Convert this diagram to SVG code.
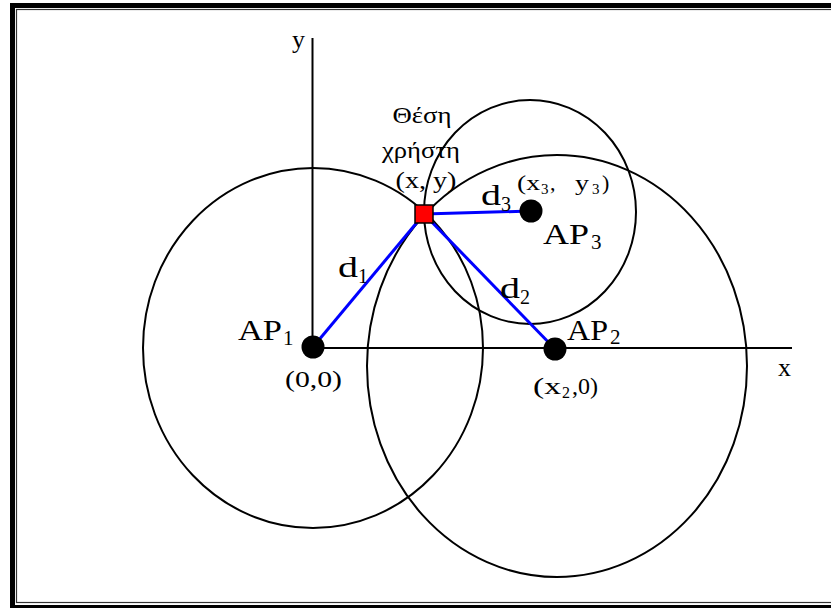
<svg xmlns="http://www.w3.org/2000/svg" width="831" height="608" viewBox="0 0 831 608">
<style>
text{font-family:'Liberation Serif','Times New Roman',Times,'Noto Serif','DejaVu Serif',serif;fill:#000}
.c{fill:none;stroke:#000;stroke-width:2}
.ax{stroke:#000;stroke-width:2}
.bl{stroke:#0000ff;stroke-width:3}
.dot{fill:#000}
</style>
<rect x="0" y="0" width="831" height="608" fill="#fff"/>
<g id="frame">
<rect x="12.5" y="5.5" width="830" height="602" fill="none" stroke="#000" stroke-width="5"/>
<rect x="16.5" y="9.5" width="820" height="593" fill="none" stroke="#333" stroke-width="1.2"/>
</g>
<g id="axes" font-family="Liberation Serif, serif">
<line class="ax" x1="312.5" y1="38" x2="312.5" y2="348"/>
<line class="ax" x1="312" y1="348" x2="792" y2="348"/>
<text x="292" y="48" font-size="26">y</text>
<text x="778" y="376" font-size="26">x</text>
</g>
<g id="circles">
<ellipse class="c" cx="313" cy="348" rx="170" ry="180"/>
<ellipse class="c" cx="557" cy="366" rx="190" ry="211"/>
<ellipse class="c" cx="530" cy="212" rx="106" ry="112"/>
</g>
<g id="connectors">
<line class="bl" x1="424" y1="214" x2="313" y2="347"/>
<line class="bl" x1="424" y1="214" x2="555" y2="349"/>
<line class="bl" x1="424" y1="214" x2="531" y2="211"/>
</g>
<g id="ap1" font-family="Liberation Serif, serif">
<circle class="dot" cx="313" cy="347" r="11.5"/>
<text x="238" y="340" font-size="30" textLength="44" lengthAdjust="spacingAndGlyphs">AP</text>
<text x="283" y="345" font-size="21">1</text>
<text x="285" y="387" font-size="24" textLength="57" lengthAdjust="spacingAndGlyphs">(0,0)</text>
</g>
<g id="ap2" font-family="Liberation Serif, serif">
<circle class="dot" cx="555" cy="349" r="11.5"/>
<text x="567" y="340" font-size="30" textLength="41" lengthAdjust="spacingAndGlyphs">AP</text>
<text x="610" y="344" font-size="21">2</text>
<text x="533" y="394" font-size="24" textLength="28" lengthAdjust="spacingAndGlyphs">(x</text>
<text x="562" y="398" font-size="16">2</text>
<text x="572" y="394" font-size="24" textLength="26" lengthAdjust="spacingAndGlyphs">,0)</text>
</g>
<g id="ap3" font-family="Liberation Serif, serif">
<circle class="dot" cx="531" cy="211" r="11.5"/>
<text x="543" y="244" font-size="30" textLength="46" lengthAdjust="spacingAndGlyphs">AP</text>
<text x="591" y="249" font-size="21">3</text>
<text x="517" y="190" font-size="22" textLength="23" lengthAdjust="spacingAndGlyphs">(x</text>
<text x="541" y="194" font-size="15">3</text>
<text x="550" y="190" font-size="22">,</text>
<text x="575" y="190" font-size="22" textLength="14" lengthAdjust="spacingAndGlyphs">y</text>
<text x="592" y="194" font-size="15">3</text>
<text x="602" y="190" font-size="22">)</text>
</g>
<g id="user" font-family="Liberation Serif, serif">
<rect x="415" y="205" width="18" height="18" fill="#ff0000" stroke="#000" stroke-width="1.5"/>
<text x="422" y="123" font-size="24" text-anchor="middle" textLength="59" lengthAdjust="spacingAndGlyphs">Θέση</text>
<text x="421" y="158" font-size="24" text-anchor="middle" textLength="78" lengthAdjust="spacingAndGlyphs">χρήστη</text>
<text x="426" y="188" font-size="24" text-anchor="middle" textLength="61" lengthAdjust="spacingAndGlyphs">(x, y)</text>
</g>
<g id="labels" font-family="Liberation Serif, serif">
<text x="338" y="277" font-size="30" textLength="20" lengthAdjust="spacingAndGlyphs">d</text>
<text x="358" y="283" font-size="20">1</text>
<text x="500" y="298" font-size="30" textLength="20" lengthAdjust="spacingAndGlyphs">d</text>
<text x="520" y="304" font-size="20">2</text>
<text x="481" y="205" font-size="30" textLength="20" lengthAdjust="spacingAndGlyphs">d</text>
<text x="501" y="211" font-size="20">3</text>
</g>
</svg>
